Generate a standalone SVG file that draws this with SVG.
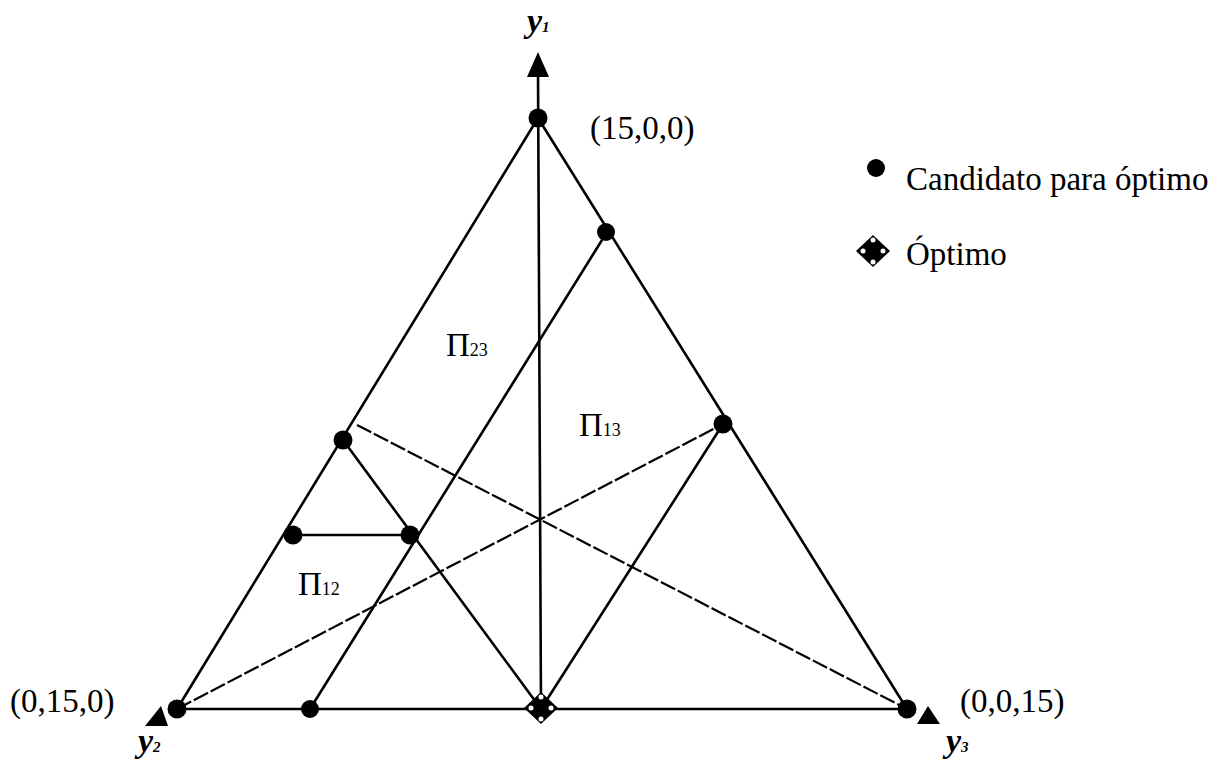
<svg xmlns="http://www.w3.org/2000/svg" width="1216" height="763" viewBox="0 0 1216 763">
<style>
.ln{stroke:#000;stroke-width:2.6;fill:none;stroke-linecap:round}
.ds{stroke:#000;stroke-width:2.2;fill:none;stroke-dasharray:16 3}
.dot{fill:#000}
.t{font-family:"Liberation Serif","Times New Roman",serif;font-size:33px;fill:#000}
.ax{font-family:"Liberation Serif","Times New Roman",serif;font-size:34px;font-style:italic;font-weight:bold;fill:#000}
.sub{font-size:18px}
.axs{font-size:15px}
</style>
<rect width="1216" height="763" fill="#fff"/>
<g id="connectors">
<line class="ln" x1="177" y1="709" x2="538" y2="118"/>
<line class="ln" x1="538" y1="118" x2="907" y2="709"/>
<line class="ln" x1="177" y1="709" x2="907" y2="709"/>
<line class="ln" x1="538" y1="70" x2="541" y2="709"/>
<line class="ln" x1="310" y1="709" x2="607" y2="232"/>
<line class="ln" x1="343" y1="440" x2="541" y2="709"/>
<line class="ln" x1="723" y1="424" x2="541" y2="709"/>
<line class="ln" x1="293" y1="535" x2="410" y2="535"/>
<line class="ds" x1="357" y1="425" x2="907" y2="709"/>
<line class="ds" x1="177" y1="709" x2="723" y2="424"/>
</g>
<g id="axis-y1">
<polygon points="538,52 527,77 549,77" fill="#000"/>
<text class="ax" x="527" y="32">y<tspan class="axs">1</tspan></text>
</g>
<g id="axis-y2">
<polygon points="161,706 145,726 168,726" fill="#000"/>
<text class="ax" x="138" y="752">y<tspan class="axs">2</tspan></text>
</g>
<g id="axis-y3">
<polygon points="928,706 917,724 940,724" fill="#000"/>
<text class="ax" x="946" y="752">y<tspan class="axs">3</tspan></text>
</g>
<g id="v-15-0-0">
<circle class="dot" cx="538" cy="118" r="9.5"/>
<text class="t" x="590" y="139">(15,0,0)</text>
</g>
<g id="v-0-15-0">
<circle class="dot" cx="177" cy="709" r="9.5"/>
<text class="t" x="10" y="712">(0,15,0)</text>
</g>
<g id="v-0-0-15">
<circle class="dot" cx="907" cy="709" r="9.5"/>
<text class="t" x="960" y="712">(0,0,15)</text>
</g>
<g id="p-right-top"><circle class="dot" cx="606" cy="232" r="9"/></g>
<g id="p-right-mid"><circle class="dot" cx="723" cy="424" r="9.5"/></g>
<g id="p-left-mid"><circle class="dot" cx="343" cy="440" r="9.5"/></g>
<g id="p-left-low"><circle class="dot" cx="293" cy="535" r="9.5"/></g>
<g id="p-inner"><circle class="dot" cx="410" cy="535" r="9.5"/></g>
<g id="p-base"><circle class="dot" cx="310" cy="709" r="9"/></g>
<g id="optimum">
<polygon points="541,692 558,708 541,724 524,708" fill="#000"/>
<circle cx="541" cy="697" r="2.5" fill="#fff"/>
<circle cx="541" cy="719" r="2.5" fill="#fff"/>
<circle cx="531" cy="708" r="2.5" fill="#fff"/>
<circle cx="551" cy="708" r="2.5" fill="#fff"/>
</g>
<g id="region-pi23"><text class="t" x="446" y="356">Π<tspan class="sub">23</tspan></text></g>
<g id="region-pi13"><text class="t" x="579" y="436">Π<tspan class="sub">13</tspan></text></g>
<g id="region-pi12"><text class="t" x="298" y="595">Π<tspan class="sub">12</tspan></text></g>
<g id="legend-candidate">
<circle class="dot" cx="876" cy="168" r="9"/>
<text class="t" x="906" y="190">Candidato para óptimo</text>
</g>
<g id="legend-optimum">
<polygon points="873,235 890,251 873,267 856,251" fill="#000"/>
<circle cx="873" cy="240" r="2.5" fill="#fff"/>
<circle cx="873" cy="262" r="2.5" fill="#fff"/>
<circle cx="863" cy="251" r="2.5" fill="#fff"/>
<circle cx="883" cy="251" r="2.5" fill="#fff"/>
<text class="t" x="906" y="265">Óptimo</text>
</g>
</svg>
